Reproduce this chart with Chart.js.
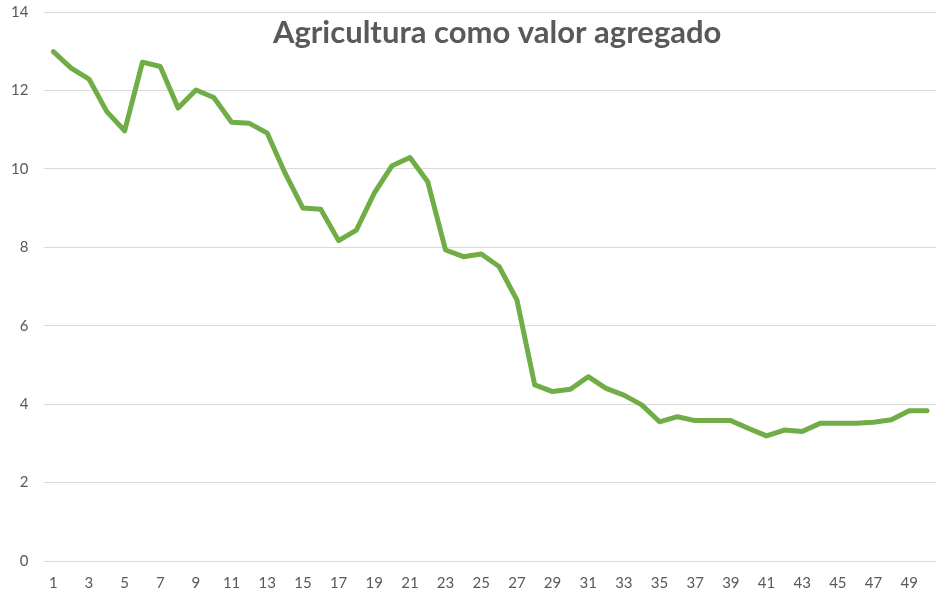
<!DOCTYPE html>
<html lang="es">
<head>
  <meta charset="UTF-8">
  <title>Agricultura como valor agregado</title>
  <script src="https://cdn.jsdelivr.net/npm/chart.js"></script>
  <style>
    html, body { margin: 0; padding: 0; background: #fff; }
    #wrap { width: 940px; height: 597px; }
  </style>
</head>
<body>
  <div id="wrap"><canvas id="myChart"></canvas></div>

  <script>
    const chartTitle = 'Agricultura como valor agregado'

    const labels = [
      1, 2, 3, 4, 5, 6, 7, 8, 9, 10,
      11, 12, 13, 14, 15, 16, 17, 18, 19, 20,
      21, 22, 23, 24, 25, 26, 27, 28, 29, 30,
      31, 32, 33, 34, 35, 36, 37, 38, 39, 40,
      41, 42, 43, 44, 45, 46, 47, 48, 49, 50
    ]

    const values = [
      12.99, 12.57, 12.29, 11.46, 10.97, 12.72, 12.61, 11.55, 12.01, 11.82,
      11.19, 11.16, 10.91, 9.89, 9.00, 8.97, 8.17, 8.44, 9.38, 10.08,
      10.29, 9.67, 7.93, 7.76, 7.83, 7.51, 6.66, 4.49, 4.32, 4.38,
      4.70, 4.40, 4.23, 3.98, 3.55, 3.68, 3.58, 3.58, 3.58, 3.38,
      3.19, 3.34, 3.30, 3.51, 3.51, 3.51, 3.54, 3.60, 3.83, 3.83
    ]

    // title sits inside the plot area, like the Excel original
    const overlayTitle = {
      id: 'overlayTitle',
      afterDraw(chart) {
        const { ctx, chartArea } = chart
        ctx.save()
        ctx.font = 'bold 31px Lato'
        ctx.fillStyle = '#595959'
        ctx.textAlign = 'center'
        ctx.textBaseline = 'middle'
        ctx.fillText(chartTitle, (chartArea.left + chartArea.right) / 2 + 7, chartArea.top + 21)
        ctx.restore()
      }
    }

    const ctx = document.getElementById('myChart').getContext('2d')
    new Chart(ctx, {
      type: 'line',
      data: {
        labels: labels,
        datasets: [{
          label: chartTitle,
          data: values,
          borderColor: '#70AD47',
          borderWidth: 5,
          borderJoinStyle: 'round',
          borderCapStyle: 'round',
          pointRadius: 0,
          fill: false,
          tension: 0
        }]
      },
      options: {
        responsive: true,
        maintainAspectRatio: false,
        animation: false,
        layout: { padding: { left: -5, right: 2, top: 0, bottom: 0 } },
        plugins: {
          legend: { display: false },
          title: { display: false },
          tooltip: { enabled: false }
        },
        scales: {
          x: {
            offset: true,
            grid: { display: false, drawTicks: false },
            border: { display: false },
            ticks: {
              autoSkip: false,
              maxRotation: 0,
              color: '#595959',
              font: { family: 'Lato', size: 15 },
              padding: 13,
              callback: function (value, index) {
                return index % 2 === 0 ? this.getLabelForValue(value) : ''
              }
            },
            afterFit(scale) {
              scale.height = 36
            }
          },
          y: {
            min: 0,
            max: 14,
            grid: { color: '#d9d9d9', lineWidth: 1, drawTicks: false },
            border: { display: false },
            ticks: {
              stepSize: 2,
              color: '#595959',
              font: { family: 'Lato', size: 15 },
              padding: 16
            },
            afterFit(scale) {
              scale.paddingTop = 12
              scale.paddingBottom = 0
            }
          }
        }
      },
      plugins: [overlayTitle]
    })
  </script>
</body>
</html>
